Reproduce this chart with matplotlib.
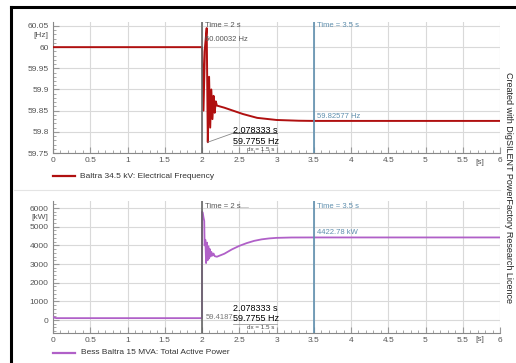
import matplotlib
matplotlib.use("Agg")
import matplotlib.pyplot as plt
from matplotlib.lines import Line2D
from matplotlib.ticker import MultipleLocator

plt.rcParams['font.family'] = ['Liberation Sans', 'DejaVu Sans']

# frequency at Baltra 34.5 kV bus [Hz]
t_freq = [0.0, 2.0, 2.005, 2.02, 2.04, 2.063, 2.078, 2.095, 2.11, 2.125, 2.14,
          2.155, 2.17, 2.185, 2.2, 2.3, 2.4, 2.55, 2.74, 3.0, 3.3, 3.5, 6.0]
freq = [60.0, 60.0, 59.99, 59.85, 60.0, 60.045, 59.7755, 59.93, 59.81, 59.9, 59.83,
        59.885, 59.845, 59.872, 59.862, 59.857, 59.851, 59.842, 59.833, 59.828,
        59.8262, 59.82577, 59.82577]

# BESS active power [kW]
t_pow = [0.0, 0.02, 0.05, 2.0, 2.001, 2.01, 2.02, 2.03, 2.035, 2.045, 2.055, 2.065,
         2.075, 2.085, 2.095, 2.105, 2.115, 2.125, 2.14, 2.155, 2.17, 2.2, 2.3, 2.4,
         2.5, 2.6, 2.7, 2.8, 2.9, 3.0, 3.2, 3.5, 6.0]
power = [180, 120, 100, 100, 5800, 5750, 5500, 5300, 4000, 4300, 3050, 4150,
         3200, 3950, 3300, 3800, 3400, 3650, 3450, 3560, 3420, 3390, 3550, 3780,
         3970, 4120, 4240, 4320, 4370, 4400, 4420, 4422.78, 4422.78]

x_ticks = [0, 0.5, 1, 1.5, 2, 2.5, 3, 3.5, 4, 4.5, 5, 5.5, 6]
x_labels = ['0', '0.5', '1', '1.5', '2', '2.5', '3', '3.5', '4', '4.5', '5', '5.5', '6']
f_ticks = [59.75, 59.8, 59.85, 59.9, 59.95, 60.0, 60.05]
f_labels = ['59.75', '59.8', '59.85', '59.9', '59.95', '60', '60.05']
p_ticks = [0, 1000, 2000, 3000, 4000, 5000, 6000]
p_labels = ['0', '1000', '2000', '3000', '4000', '5000', '6000']

W, H = 516, 363
fig = plt.figure(figsize=(W / 100, H / 100), dpi=100)

grid_c = '#d9d9d9'
tick_c = '#555555'
blue_c = '#5f8fae'
cur_c = '#666666'


def setup(ax, yt, yl):
    ax.set_xlim(0, 6)
    ax.set_xticks(x_ticks)
    ax.set_xticklabels(x_labels)
    ax.set_yticks(yt)
    ax.set_yticklabels(yl)
    ax.xaxis.set_minor_locator(MultipleLocator(0.1))
    ax.grid(True, color=grid_c, lw=0.8)
    for s in ['top', 'right']:
        ax.spines[s].set_visible(False)
    for s in ['left', 'bottom']:
        ax.spines[s].set_color('#888888')
        ax.spines[s].set_linewidth(0.8)
    ax.tick_params(axis='both', which='both', direction='in', colors='#999999',
                   labelcolor=tick_c, labelsize=6, pad=3)
    ax.tick_params(which='major', length=4)
    ax.tick_params(which='minor', length=2)
    ax.axvline(2.0, color=cur_c, lw=1.2, zorder=4)
    ax.axvline(3.5, color=blue_c, lw=1.2, zorder=4)


# top panel: frequency
ax1 = fig.add_axes([53 / W, 1 - 153 / H, 447 / W, 131 / H])
setup(ax1, f_ticks, f_labels)
ax1.set_ylim(59.75, 60.0594)
ax1.yaxis.set_minor_locator(MultipleLocator(0.01))
ax1.plot(t_freq, freq, color='#b01010', lw=1.4, zorder=3)
ax1.text(-0.06, 60.027, '[Hz]', ha='right', va='center', fontsize=6, color=tick_c)
ax1.text(5.73, 59.737, '[s]', ha='center', va='top', fontsize=6, color=tick_c, clip_on=False)
ax1.text(2.04, 60.05, 'Time = 2 s', fontsize=5.5, color=tick_c, va='center')
ax1.text(2.04, 60.017, '60.00032 Hz', fontsize=5.5, color=tick_c, va='center')
ax1.text(3.54, 60.05, 'Time = 3.5 s', fontsize=5.5, color=blue_c, va='center')
ax1.text(3.54, 59.837, '59.82577 Hz', fontsize=5.5, color=blue_c, va='center')
ax1.text(2.42, 59.804, '2.078333 s', fontsize=6.5, color='black', va='center')
ax1.text(2.42, 59.778, '59.7755 Hz', fontsize=6.5, color='black', va='center')
ax1.text(2.97, 59.759, 'dx = 1.5 s', fontsize=4.5, color='#444444', va='center', ha='right')
ax1.plot([2.078, 2.42], [59.7755, 59.797], color='#888888', lw=0.6, zorder=5)
ax1.plot([2.42, 3.0], [59.797, 59.797], color='#444444', lw=0.6, zorder=5)
ax1.plot([2.42, 3.0], [59.769, 59.769], color='#888888', lw=0.5, zorder=5)

# bottom panel: active power
ax2 = fig.add_axes([53 / W, 1 - 333 / H, 447 / W, 132 / H])
setup(ax2, p_ticks, p_labels)
ax2.set_ylim(-696, 6375)
ax2.yaxis.set_minor_locator(MultipleLocator(200))
ax2.plot(t_pow, power, color='#b060c8', lw=1.3, zorder=3)
ax2.text(-0.06, 5480, '[kW]', ha='right', va='center', fontsize=6, color=tick_c)
ax2.text(5.73, -1050, '[s]', ha='center', va='center', fontsize=6, color=tick_c, clip_on=False)
ax2.text(2.04, 6107, 'Time = 2 s', fontsize=5.5, color=tick_c, va='center')
ax2.plot([2.5, 2.62], [6060, 6060], color='#bbbbbb', lw=0.5)
ax2.text(3.54, 6107, 'Time = 3.5 s', fontsize=5.5, color=blue_c, va='center')
ax2.text(3.54, 4714, '4422.78 kW', fontsize=5.5, color=blue_c, va='center')
ax2.text(2.05, 160, '59.4187', fontsize=5.5, color='#777777', va='center')
ax2.text(2.42, 643, '2.078333 s', fontsize=6.5, color='black', va='center')
ax2.text(2.42, 107, '59.7755 Hz', fontsize=6.5, color='black', va='center')
ax2.text(2.97, -375, 'dx = 1.5 s', fontsize=4.5, color='#444444', va='center', ha='right')
ax2.plot([2.42, 3.0], [-190, -190], color='#888888', lw=0.5, zorder=5)

# legends drawn as figure artists
fig.add_artist(Line2D([53 / W, 75 / W], [1 - 176 / H] * 2, color='#b01010', lw=1.6))
fig.text(80 / W, 1 - 176 / H, 'Baltra 34.5 kV: Electrical Frequency', fontsize=6,
         va='center', color='#333333')
fig.add_artist(Line2D([53 / W, 75 / W], [1 - 353 / H] * 2, color='#b060c8', lw=1.6))
fig.text(81 / W, 1 - 353 / H, 'Bess Baltra 15 MVA: Total Active Power', fontsize=6,
         va='center', color='#333333')

# separator and frame
fig.add_artist(Line2D([14 / W, 500 / W], [1 - 190 / H] * 2, color='#e4e4e4', lw=0.8))
fig.add_artist(Line2D([11 / W, 11 / W], [0, 1 - 7 / H], color='black', lw=2.2))
fig.add_artist(Line2D([11 / W, 1], [1 - 7 / H] * 2, color='black', lw=2.2))

fig.text(508 / W, 1 - 187 / H, 'Created with DigSILENT PowerFactory Research Licence',
         rotation=-90, ha='center', va='center', fontsize=6.5, color='#222222')

fig.savefig('out.png', dpi=100)
